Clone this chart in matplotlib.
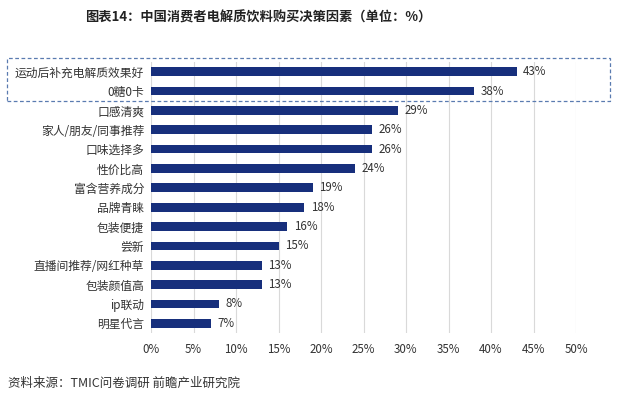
import matplotlib
matplotlib.use("Agg")
import matplotlib.pyplot as plt
from matplotlib.patches import Rectangle

plt.rcParams['font.family'] = ['Noto Sans CJK SC', 'DejaVu Sans']

categories = ["运动后补充电解质效果好", "0糖0卡", "口感清爽", "家人/朋友/同事推荐", "口味选择多",
              "性价比高", "富含营养成分", "品牌青睐", "包装便捷", "尝新",
              "直播间推荐/网红种草", "包装颜值高", "ip联动", "明星代言"]
values = [43, 38, 29, 26, 26, 24, 19, 18, 16, 15, 13, 13, 8, 7]
xticks = [0, 5, 10, 15, 20, 25, 30, 35, 40, 45, 50]
title = "图表14：中国消费者电解质饮料购买决策因素（单位：%）"
source = "资料来源：TMIC问卷调研 前瞻产业研究院"

W, H = 624, 403
fig = plt.figure(figsize=(W/100, H/100), dpi=100)
left, right = 151/W, 576/W
top, bottom = 1 - 62/H, 1 - 333/H
ax = fig.add_axes([left, bottom, right-left, top-bottom])

n = len(categories)
ypos = list(range(n))
ax.barh(ypos, values, height=0.45, color="#172f7c", zorder=3)
for y, v in zip(ypos, values):
    ax.text(v + 0.8, y, f"{v}%", va="center", ha="left", fontsize=8.3, color="#333333")
ax.set_ylim(n - 0.5, -0.5)
ax.set_xlim(0, 50)
ax.set_yticks(ypos)
ax.set_yticklabels(categories, fontsize=8.5, color="#333333")
ax.set_xticks(xticks)
ax.set_xticklabels([f"{t}%" for t in xticks], fontsize=8.3, color="#333333")
ax.tick_params(length=0, pad=5)
ax.tick_params(axis='x', pad=7)
ax.grid(axis='x', color="#d9d9d9", linewidth=0.8, zorder=0)
for s in ax.spines.values():
    s.set_visible(False)

fig.text(258/W, 1 - 18/H, title, ha="center", va="center", fontsize=9.5, fontweight="bold", color="#222222")
fig.text(8/W, 1 - 383/H, source, ha="left", va="center", fontsize=9, color="#333333")

box = Rectangle((7/W, 1 - 101/H), (610-7)/W, (101-58)/H, transform=fig.transFigure,
                fill=False, edgecolor="#5a7bb0", linestyle=(0, (3, 2)), linewidth=0.9)
fig.patches.append(box)

fig.savefig("out.png", dpi=100)
